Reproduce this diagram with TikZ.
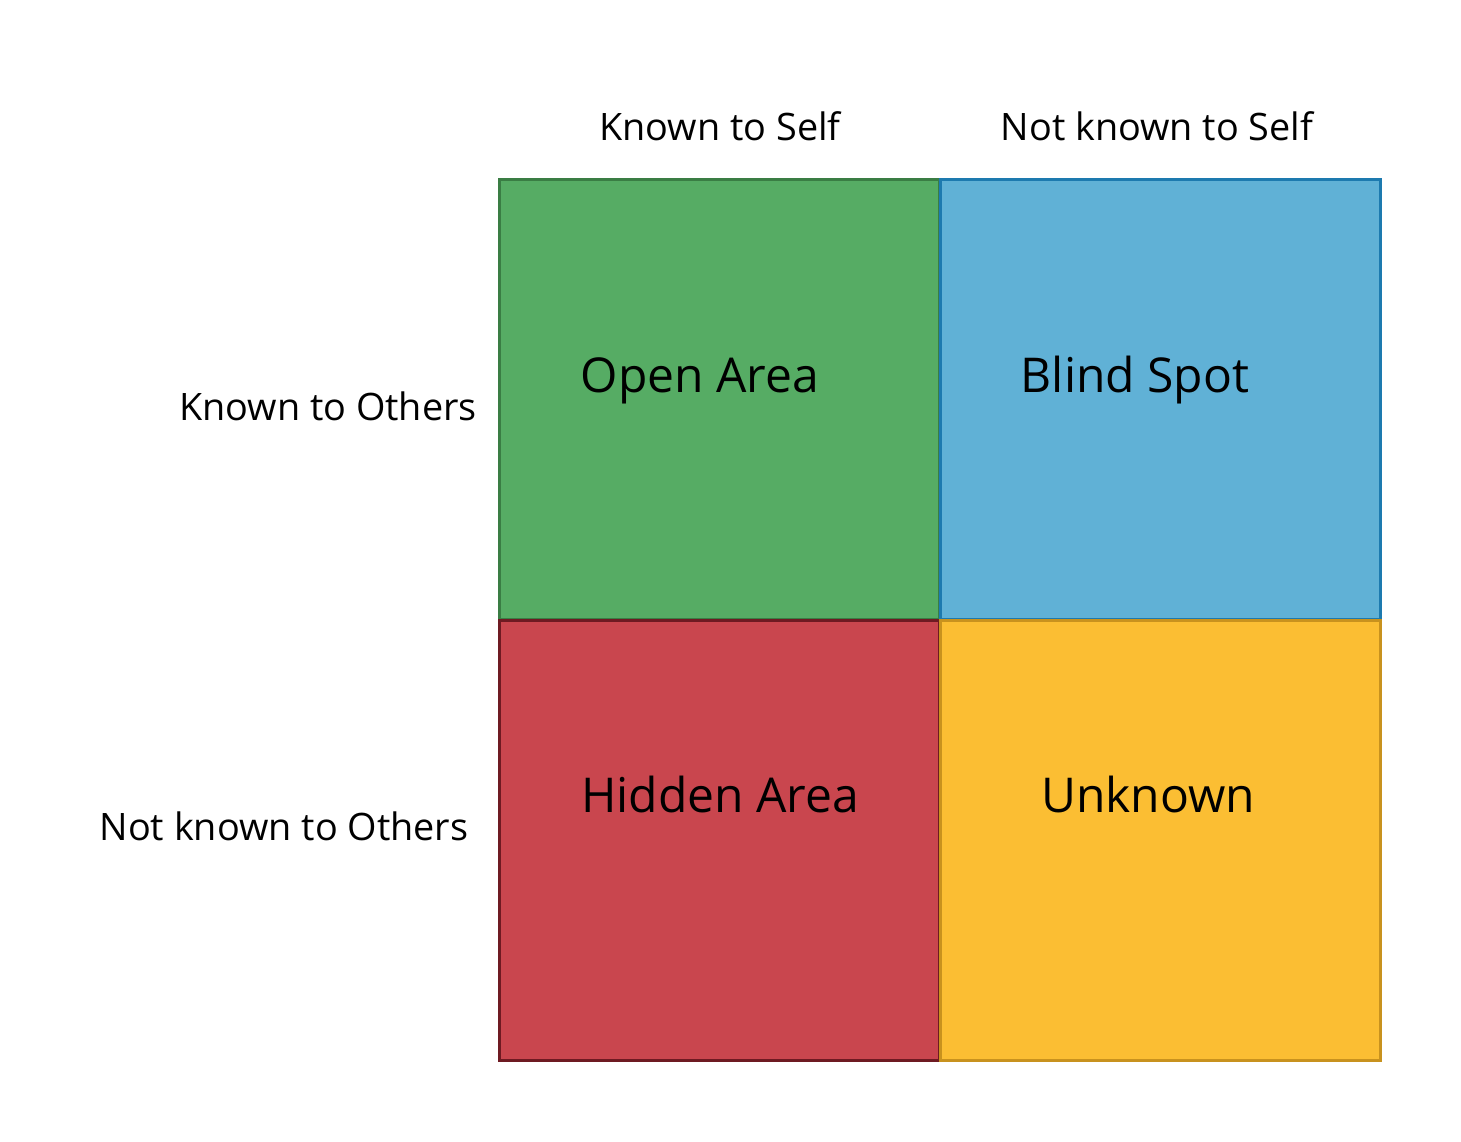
\documentclass[tikz,border=0pt]{standalone}
\usepackage{fontspec}
\setmainfont{Open Sans}
\usepackage{xcolor}
\usetikzlibrary{positioning}

\definecolor{opengreen}{HTML}{56AC64}
\definecolor{openedge}{HTML}{3A7D44}
\definecolor{blindblue}{HTML}{60B1D6}
\definecolor{blindedge}{HTML}{1D7AAF}
\definecolor{hiddenred}{HTML}{C9464E}
\definecolor{hiddenedge}{HTML}{6E1A22}
\definecolor{unknownyellow}{HTML}{FBBE33}
\definecolor{unknownedge}{HTML}{C8921E}

\begin{document}
\begin{tikzpicture}[
    x=1pt, y=-1pt,
    quad/.style={rectangle, minimum width=440pt, minimum height=440pt, line width=3pt, inner sep=0pt},
    headlabel/.style={anchor=base, font=\fontsize{37.8}{45}\selectfont, inner sep=0pt},
    quadlabel/.style={anchor=base, font=\fontsize{48}{58}\selectfont, inner sep=0pt}
]
\useasboundingbox (0,0) rectangle (1461,1141);

% quadrants
\node (open) [quad, fill=opengreen, draw=openedge] at (719,399) {};
\node (blind) [quad, fill=blindblue, draw=blindedge] at (1160,399) {};
\node (hidden) [quad, fill=hiddenred, draw=hiddenedge] at (719,840) {};
\node (unknown) [quad, fill=unknownyellow, draw=unknownedge] at (1160,840) {};

% axis labels
\node (selfknown) [headlabel] at (720,140) {Known to Self};
\node (selfnot) [headlabel] at (1157,140) {Not known to Self};
\node (othersknown) [headlabel] at (328,420) {Known to Others};
\node (othersnot) [headlabel] at (284,840) {Not known to Others};

% quadrant names
\node (opentext) [quadlabel] at (700,392) {Open Area};
\node (blindtext) [quadlabel] at (1135,392) {Blind Spot};
\node (hiddentext) [quadlabel] at (720,812) {Hidden Area};
\node (unknowntext) [quadlabel] at (1148,812) {Unknown};

\end{tikzpicture}
\end{document}
